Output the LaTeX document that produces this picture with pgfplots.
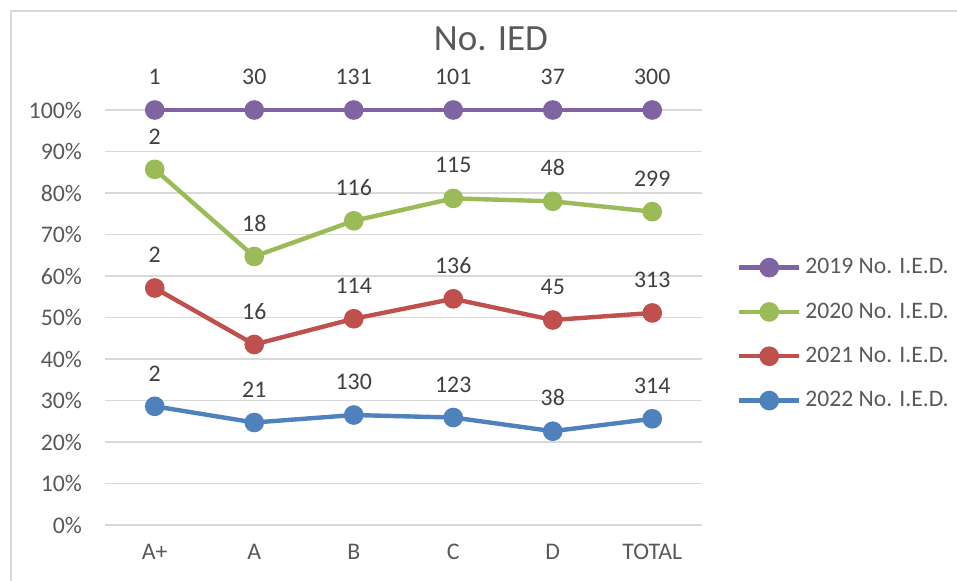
\documentclass[border=0pt]{standalone}
\usepackage{pgfplots}
\pgfplotsset{compat=1.18}
\usepackage{fontspec}
\setmainfont{Carlito}
\definecolor{c19}{HTML}{8064A2}
\definecolor{c20}{HTML}{9BBB59}
\definecolor{c21}{HTML}{C0504D}
\definecolor{c22}{HTML}{4F81BD}
\definecolor{txt}{HTML}{595959}
\definecolor{lbl}{HTML}{404040}
\definecolor{gridc}{HTML}{D9D9D9}
\begin{document}
\begin{tikzpicture}
\useasboundingbox (0,0) rectangle (478.5pt,290pt);
\draw[gridc, line width=0.75pt] (5.5pt,-5pt) -- (5.5pt,284.5pt) -- (485pt,284.5pt);
\node[text=txt, font=\fontsize{18.5}{22}\selectfont] at (245.5pt,270.5pt) {No. IED};
\begin{axis}[
  at={(52.5pt,27.5pt)}, anchor=south west,
  scale only axis, width=298.5pt, height=207.5pt,
  xmin=-0.5, xmax=5.5, ymin=0, ymax=1,
  xtick={0,1,2,3,4,5}, xticklabels={A+,A,B,C,D,TOTAL},
  ytick={0,0.1,0.2,0.3,0.4,0.5,0.6,0.7,0.8,0.9,1},
  yticklabels={0\%,10\%,20\%,30\%,40\%,50\%,60\%,70\%,80\%,90\%,100\%},
  axis line style={draw=none}, major tick length=0pt,
  ymajorgrids, grid style={gridc, line width=0.75pt},
  tick label style={font=\fontsize{11.9}{14}\selectfont, text=txt},
  yticklabel style={xshift=-8pt},
  xticklabel style={yshift=-6pt},
  clip=false,
  nodes near coords, point meta=explicit symbolic,
  every node near coord/.append style={font=\fontsize{11.9}{14}\selectfont, text=lbl, anchor=south, yshift=8.2pt},
  every axis plot/.append style={line width=2.2pt, mark=*, mark size=3.8pt, mark options={solid}},
  legend style={draw=none, fill=none, at={(1.048,0.46)}, anchor=west,
    font=\fontsize{11.8}{14}\selectfont, text=txt, row sep=9pt},
  legend cell align=left,
  legend image code/.code={\draw[mark repeat=2,mark phase=2,#1] plot coordinates {(0pt,0pt) (15pt,0pt) (30pt,0pt)};},
]
\addplot[c19] coordinates {(0,1.0)[1] (1,1.0)[30] (2,1.0)[131] (3,1.0)[101] (4,1.0)[37] (5,1.0)[300]};
\addlegendentry{2019 No. I.E.D.}
\addplot[c20] coordinates {(0,0.857)[2] (1,0.647)[18] (2,0.733)[116] (3,0.787)[115] (4,0.780)[48] (5,0.755)[299]};
\addlegendentry{2020 No. I.E.D.}
\addplot[c21] coordinates {(0,0.571)[2] (1,0.435)[16] (2,0.497)[114] (3,0.545)[136] (4,0.494)[45] (5,0.511)[313]};
\addlegendentry{2021 No. I.E.D.}
\addplot[c22] coordinates {(0,0.286)[2] (1,0.247)[21] (2,0.265)[130] (3,0.259)[123] (4,0.226)[38] (5,0.256)[314]};
\addlegendentry{2022 No. I.E.D.}
\end{axis}
\end{tikzpicture}
\end{document}
